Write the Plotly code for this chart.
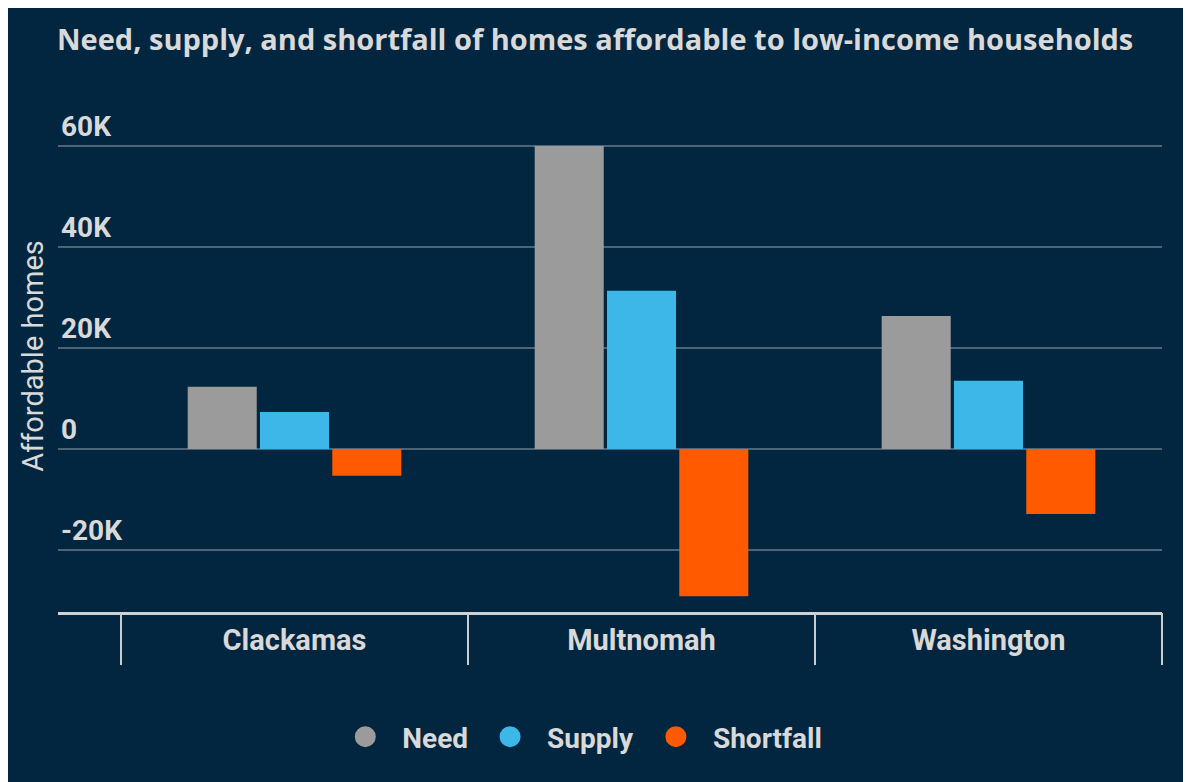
import plotly.graph_objects as go

counties = ["Clackamas", "Multnomah", "Washington"]
need = [12300, 60000, 26300]
supply = [7300, 31300, 13500]
shortfall = [-5300, -29200, -12900]

series_names = ["Need", "Supply", "Shortfall"]
series_colors = ["#9b9b9b", "#3db6e8", "#ff5a00"]
y_tickvals = [-20000, 0, 20000, 40000, 60000]
y_ticktext = ["-20K", "0", "20K", "40K", "60K"]

BG = "#02263f"
TXT = "#d9d9d9"

X_RANGE = [-0.6816, 2.5]
Y_RANGE = [-32300, 69100]
divider_positions = [i - 0.5 for i in range(len(counties) + 1)]

fig = go.Figure()
for name, vals, col in zip(series_names, [need, supply, shortfall], series_colors):
    fig.add_trace(go.Bar(x=counties, y=vals, name=name, marker_color=col,
                         marker_line_width=0, showlegend=False))
for name, col in zip(series_names, series_colors):
    fig.add_trace(go.Scatter(x=[None], y=[None], mode="markers", name=name,
                             marker=dict(symbol="circle", size=16, color=col,
                                         line=dict(color=col, width=5))))
# empty trace so the divider axis (x2 on y2) gets drawn
fig.add_trace(go.Scatter(x=[None], y=[None], xaxis="x2", yaxis="y2", mode="markers",
                         showlegend=False, hoverinfo="skip"))

fig.update_layout(
    width=1183, height=774,
    paper_bgcolor=BG, plot_bgcolor=BG,
    margin=dict(l=50, r=29, t=92, b=170),
    barmode="group", bargap=0.375, bargroupgap=0.045,
    title=dict(text="<b>Need, supply, and shortfall of homes affordable to low-income households</b>",
               x=49 / 1183, xanchor="left", y=1 - 32 / 774, yanchor="middle",
               font=dict(family="Open Sans", size=29, color=TXT)),
    legend=dict(orientation="h", x=557 / 1183, xanchor="center", y=1 - 729 / 774,
                yanchor="middle", yref="container", itemwidth=64,
                font=dict(family="Roboto", size=28, color=TXT, weight="bold"),
                bgcolor="rgba(0,0,0,0)", itemclick=False),
    font=dict(family="Roboto", color=TXT),
    xaxis=dict(
        type="category", range=X_RANGE, ticks="",
        showline=True, linecolor="#d0d3d6", linewidth=3,
        showgrid=False, zeroline=False,
        tickfont=dict(family="Roboto", size=29, color=TXT, weight="bold"),
        ticklabelstandoff=0,
    ),
    xaxis2=dict(overlaying="x", anchor="y2", side="bottom", type="linear",
                range=X_RANGE, tickmode="array", tickvals=divider_positions,
                ticks="outside", ticklen=52, tickwidth=1.5, tickcolor="#c8cdd2",
                showgrid=False, zeroline=False, showline=False, showticklabels=False),
    yaxis2=dict(overlaying="y", anchor="x2", side="left", range=Y_RANGE,
                showticklabels=False, ticks="", showgrid=False, zeroline=False,
                showline=False),
    yaxis=dict(
        range=Y_RANGE, tickvals=y_tickvals, ticktext=y_ticktext,
        ticklabelposition="inside top", ticks="",
        showgrid=True, gridcolor="#4d6478", gridwidth=2,
        zeroline=False, showline=False,
        tickfont=dict(family="Roboto", size=28, color=TXT, weight="bold"),
        title=dict(text="Affordable homes", standoff=8,
                   font=dict(family="Roboto", size=29, color=TXT)),
    ),
)

fig.write_html("out.html")
